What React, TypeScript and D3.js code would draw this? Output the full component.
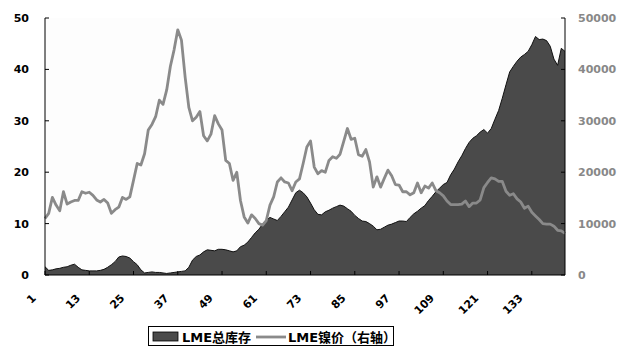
import React from "react";
import * as d3 from "d3";

// LME total stock (left axis, 万吨)
const stock: number[] = [
  1.6, 0.9, 1.0, 1.2, 1.3, 1.5, 1.6, 1.9, 2.1, 1.5,
  1.0, 0.9, 0.8, 0.8, 0.8, 0.9, 1.1, 1.5, 2.0, 2.6,
  3.5, 3.7, 3.6, 3.3, 2.6, 2.0, 1.0, 0.4, 0.5, 0.6,
  0.5, 0.5, 0.4, 0.3, 0.4, 0.5, 0.6, 0.7, 0.8, 1.5,
  2.9, 3.6, 3.9, 4.5, 4.9, 4.8, 4.7, 5.0, 5.0, 4.9,
  4.7, 4.5, 4.7, 5.5, 5.8, 6.4, 7.3, 8.2, 8.9, 9.9,
  10.7, 11.2, 10.9, 10.6, 11.4, 12.3, 13.2, 14.6, 16.0, 16.5,
  16.0, 15.2, 14.0, 12.7, 11.8, 11.7, 12.3, 12.6, 13.0, 13.3,
  13.6, 13.4, 12.9, 12.4, 11.6, 11.0, 10.5, 10.4, 10.0, 9.5,
  8.8, 8.9, 9.3, 9.7, 9.9, 10.2, 10.5, 10.5, 10.4, 11.2,
  11.9, 12.4, 13.0, 13.5, 14.5, 15.3, 16.2, 16.9, 17.6, 18.0,
  19.5, 20.6, 22.0, 23.2, 24.6, 25.8, 26.6, 27.1, 27.8, 28.3,
  27.6, 28.5, 30.3, 32.0, 34.4, 37.0, 39.5, 40.6, 41.6, 42.4,
  42.9, 43.5, 44.8, 46.4, 45.8, 45.9, 45.6, 44.5, 42.0, 40.8,
  44.1, 43.5,
];

// LME nickel price (right axis)
const price: number[] = [
  11000, 12000, 15100, 13600, 12500, 16200, 13800, 14200, 14500, 14500,
  16200, 15900, 16100, 15500, 14600, 14200, 14700, 14000, 12000, 12700,
  13200, 15100, 14700, 15200, 18400, 21700, 21400, 23600, 28200, 29300,
  30800, 34000, 33200, 36000, 40600, 43800, 47700, 45700, 38500, 32600,
  30000, 30700, 31800, 27100, 26100, 27400, 31000, 29400, 28200, 22300,
  21700, 18400, 20000, 14500, 11300, 10100, 11700, 11000, 10000, 9700,
  10600, 13600, 15200, 18100, 18900, 18100, 17900, 16400, 18100, 18700,
  21700, 24900, 26100, 21000, 19700, 20300, 20000, 22300, 23000, 22700,
  23500, 26000, 28500, 26400, 26600, 23400, 23100, 24400, 22000, 17100,
  19100, 17100, 18800, 20400, 19300, 17600, 17500, 16200, 16200, 15600,
  16000, 17900, 16000, 17300, 16900, 17900, 16400, 16000, 15400, 14400,
  13700, 13700, 13700, 13800, 14400, 13300, 14000, 14000, 14600, 17000,
  18000, 18900, 18700, 18200, 18200, 16300, 15500, 15800, 14800, 14200,
  13000, 13400, 12200, 11500, 10800, 10000, 9900, 9900, 9500, 8700,
  8600, 8100,
];

const categories: number[] = stock.map((_, i) => i + 1);
const xTickLabels: string[] = ["1", "13", "25", "37", "49", "61", "73", "85", "97", "109", "121", "133"];
const leftTicks: number[] = [0, 10, 20, 30, 40, 50];
const rightTicks: number[] = [0, 10000, 20000, 30000, 40000, 50000];
const legendLabels: string[] = ["LME总库存", "LME镍价（右轴）"];

const W = 628;
const H = 356;
const L = 45;
const R = 565;
const T = 18;
const B = 275;

const AREA_COLOR = "#4a4a4a";
const LINE_COLOR = "#8a8a8a";
const FONT = "'DejaVu Sans', 'Noto Sans CJK SC', sans-serif";

export default function App() {
  const x = d3.scaleLinear().domain([1, categories[categories.length - 1]]).range([L, R]);
  const yL = d3.scaleLinear().domain([0, 50]).range([B, T]);
  const yR = d3.scaleLinear().domain([0, 50000]).range([B, T]);

  const areaGen = d3
    .area<number>()
    .x((_, i) => x(categories[i]))
    .y0(B)
    .y1((d) => yL(d));
  const topGen = d3
    .line<number>()
    .x((_, i) => x(categories[i]))
    .y((d) => yL(d));
  const lineGen = d3
    .line<number>()
    .x((_, i) => x(categories[i]))
    .y((d) => yR(d));

  return (
    <svg
      width={W}
      height={H}
      style={{ position: "absolute", left: 0, top: 0, background: "#ffffff" }}
      fontFamily={FONT}
    >
      <rect x={L} y={T} width={R - L} height={B - T} fill="#fdfdfd" />
      <path d={areaGen(stock) || ""} fill={AREA_COLOR} />
      <path d={topGen(stock) || ""} fill="none" stroke="#111" strokeWidth={1} />
      <path
        d={lineGen(price) || ""}
        fill="none"
        stroke={LINE_COLOR}
        strokeWidth={2.8}
        strokeLinejoin="round"
      />

      {/* axes */}
      <line x1={L} x2={L} y1={T} y2={B} stroke="#000" strokeWidth={1} />
      <line x1={R} x2={R} y1={T} y2={B} stroke="#000" strokeWidth={1} />
      <line x1={L} x2={R} y1={B} y2={B} stroke="#000" strokeWidth={1} />

      {leftTicks.map((t) => (
        <g key={"l" + t}>
          <line x1={L} x2={L + 4} y1={yL(t)} y2={yL(t)} stroke="#000" />
          <text
            x={L - 16}
            y={yL(t)}
            dy="0.36em"
            textAnchor="end"
            fontSize={11}
            fontWeight="bold"
            fill="#000"
          >
            {t}
          </text>
        </g>
      ))}

      {rightTicks.map((t) => (
        <g key={"r" + t}>
          <line x1={R - 4} x2={R} y1={yR(t)} y2={yR(t)} stroke="#000" />
          <text
            x={R + 13}
            y={yR(t)}
            dy="0.36em"
            textAnchor="start"
            fontSize={11}
            fontWeight="bold"
            fill="#888888"
          >
            {t}
          </text>
        </g>
      ))}

      {xTickLabels.map((lab) => {
        const px = x(+lab);
        return (
          <g key={"x" + lab}>
            <line x1={px} x2={px} y1={B} y2={B - 4} stroke="#000" />
            <text
              transform={`translate(${px - 11},${B + 21}) rotate(-45)`}
              textAnchor="end"
              dy="0.35em"
              fontSize={11}
              fontWeight="bold"
              fill="#000"
            >
              {lab}
            </text>
          </g>
        );
      })}

      {/* legend */}
      <rect x={148.5} y={326.5} width={245} height={19} fill="#fff" stroke="#000" strokeWidth={1} />
      <rect x={153} y={332} width={25} height={9} fill={AREA_COLOR} stroke="#000" strokeWidth={0.8} />
      <text x={182} y={337} dy="0.36em" fontSize={13} fontWeight="bold" fill="#000">
        {legendLabels[0]}
      </text>
      <line x1={256} x2={286} y1={337} y2={337} stroke={LINE_COLOR} strokeWidth={2.8} />
      <text x={288} y={337} dy="0.36em" fontSize={13} fontWeight="bold" fill="#000">
        {legendLabels[1]}
      </text>
    </svg>
  );
}
